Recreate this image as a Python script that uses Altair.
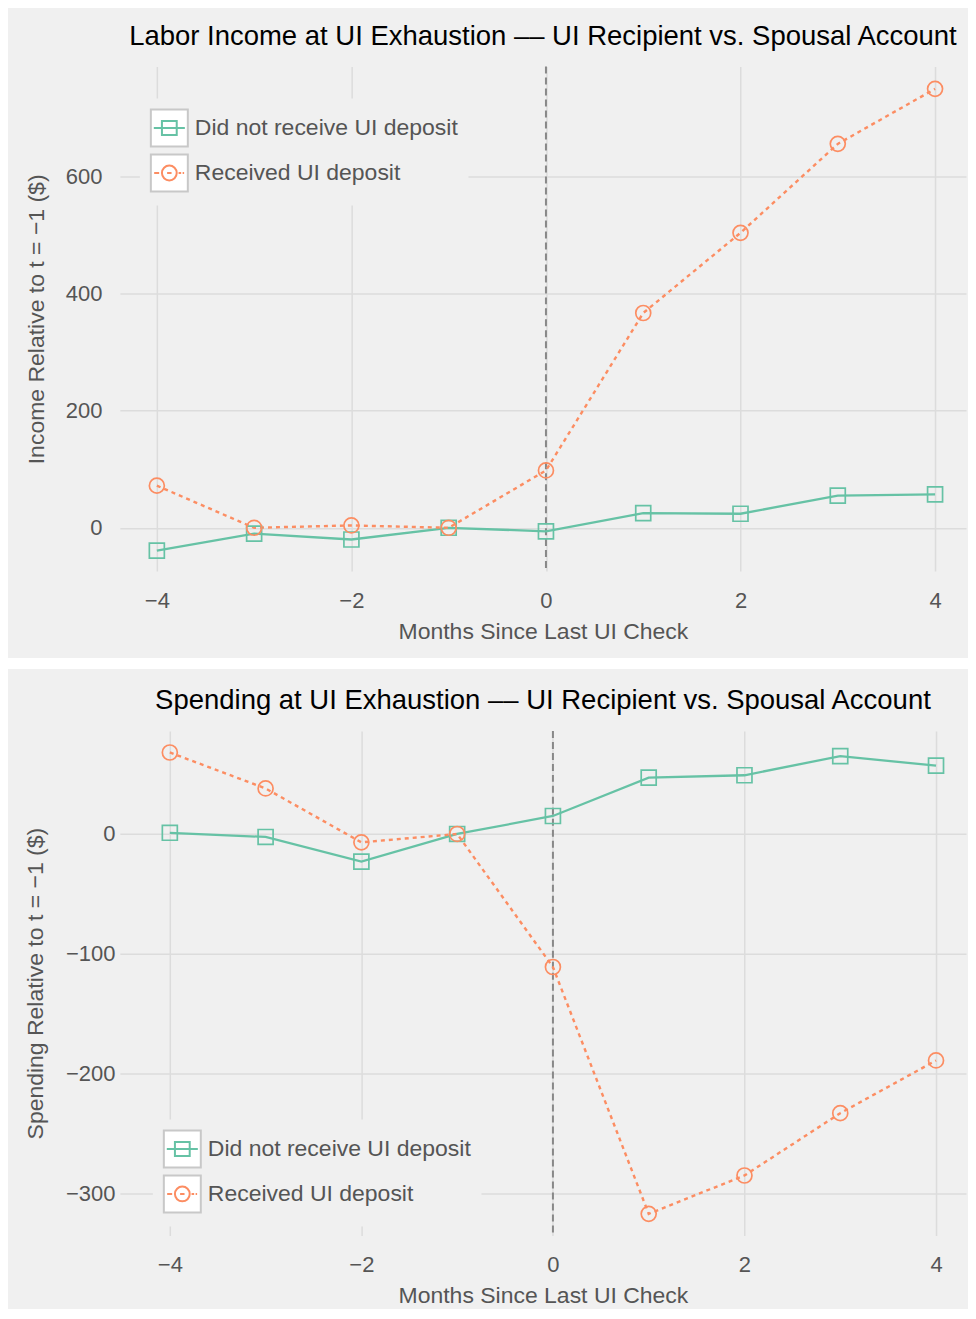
import altair as alt
import pandas as pd

months = [-4, -3, -2, -1, 0, 1, 2, 3, 4]
series_names = ["Did not receive UI deposit", "Received UI deposit"]
income_no = [-39, -10, -20, 0, -6, 25, 24, 55, 57]
income_yes = [72, 0, 4, 0, 98, 367, 504, 656, 750]
spend_no = [1, -2.5, -23, 0, 15, 47, 49, 65, 57]
spend_yes = [68, 38, -7, 0, -111, -317, -285, -233, -189]
x_ticks = [-4, -2, 0, 2, 4]
income_ticks = [0, 200, 400, 600]
spend_ticks = [-300, -200, -100, 0]
exhaust_month = [0]

GREEN = "#66c2a5"
ORANGE = "#fc8d62"
BG = "#f0f0f0"
GRID = "#dcdcdc"
TEXT = "#555555"
FONT = "Liberation Sans"
PLOT_W, PLOT_H = 847, 505

EXTENT = "M-1,-1M1,1"
SQ_GLYPH = EXTENT + "M-0.84,0H0.84M-0.4,-0.38H0.4V0.38H-0.4Z"
CI_GLYPH = (EXTENT + "M-0.82,0H-0.55M-0.4,0A0.4,0.4 0 1,0 0.4,0A0.4,0.4 0 1,0 -0.4,0Z"
            "M-0.12,0H0.12M0.5,0H0.64M0.72,0H0.8")
# invisible glyph whose extent makes a white band (panel separator) of GAP_W x GAP_H px
GAP_W, GAP_H = 960, 11
_s = GAP_H / 2
GAP_GLYPH = f"M-1,-1M{GAP_W / _s - 1:.4f},1"


def panel(no_vals, yes_vals, title, ytitle, ydomain, yticks, xdomain, label_pad,
          title_pad, legend_x, legend_y, gap=False):
    df = pd.DataFrame({
        "month": months + months,
        "value": no_vals + yes_vals,
        "series": [series_names[0]] * len(months) + [series_names[1]] * len(months),
    })
    xenc = alt.X("month:Q", scale=alt.Scale(domain=xdomain, nice=False, zero=False),
                 axis=alt.Axis(values=x_ticks, title="Months Since Last UI Check", format="d"))
    yenc = alt.Y("value:Q", scale=alt.Scale(domain=ydomain, nice=False, zero=False),
                 axis=alt.Axis(values=yticks, title=ytitle, format="d",
                               labelPadding=label_pad, titlePadding=title_pad))
    base = alt.Chart(df)

    def sub(i):
        return base.transform_filter(alt.datum.series == series_names[i])

    vline = alt.Chart(pd.DataFrame({"month": exhaust_month})).mark_rule(
        color="#888888", strokeWidth=2, strokeDash=[7, 4]).encode(x=xenc)
    line_no = sub(0).mark_line(color=GREEN, strokeWidth=2.3).encode(x=xenc, y=yenc)
    line_yes = sub(1).mark_line(color=ORANGE, strokeWidth=2.4, strokeDash=[4, 4]).encode(x=xenc, y=yenc)
    pts_no = sub(0).mark_point(shape="square", color=GREEN, filled=False, size=225,
                               strokeWidth=1.7, opacity=1).encode(x=xenc, y=yenc)
    pts_yes = sub(1).mark_point(shape="circle", color=ORANGE, filled=False, size=225,
                                strokeWidth=1.7, opacity=1).encode(x=xenc, y=yenc)

    common = dict(orient="none", legendX=legend_x, legendY=legend_y, title=None, padding=10,
                  symbolSize=1369, symbolStrokeWidth=2, rowPadding=0, labelOffset=6,
                  labelFont=FONT, labelFontSize=23, labelLimit=500)
    box_domain = ["box0", "box1"]
    label_expr = f"datum.value == 'box0' ? '{series_names[0]}' : '{series_names[1]}'"
    leg_box = base.transform_filter("false").mark_point(
        shape="square", filled=True, stroke="#c8c8c8", opacity=1).encode(
        x=xenc, y=yenc,
        fill=alt.Fill("series:N", scale=alt.Scale(domain=box_domain, range=["white", "white"]),
                      legend=alt.Legend(**common, fillColor=BG, zindex=1, labelOpacity=0,
                                        labelExpr=label_expr, symbolType="square",
                                        symbolStrokeColor="#c8c8c8", symbolFillColor="white")))
    leg_sym = base.transform_filter("false").mark_point(filled=False, opacity=1).encode(
        x=xenc, y=yenc,
        color=alt.Color("series:N", scale=alt.Scale(domain=series_names, range=[GREEN, ORANGE]),
                        legend=alt.Legend(**common, zindex=2, labelColor=TEXT)),
        shape=alt.Shape("series:N", scale=alt.Scale(domain=series_names, range=[SQ_GLYPH, CI_GLYPH]),
                        legend=alt.Legend(**common, zindex=2, labelColor=TEXT)),
    )
    layers = [vline, line_no, line_yes, pts_no, pts_yes, leg_box, leg_sym]
    if gap:
        gap_layer = base.transform_filter("false").mark_point(filled=False, opacity=1).encode(
            x=xenc, y=yenc,
            stroke=alt.Stroke("series:N", scale=alt.Scale(domain=["gap"], range=["transparent"]),
                              legend=alt.Legend(orient="none", legendX=-112, legendY=592, title=None,
                                                padding=0, fillColor="white",
                                                symbolType=GAP_GLYPH, symbolSize=GAP_H * GAP_H,
                                                symbolStrokeWidth=0, symbolFillColor="transparent",
                                                labelExpr="''", labelFontSize=1, labelOffset=0,
                                                rowPadding=0, zindex=0)))
        layers.append(gap_layer)
    return alt.layer(*layers).properties(width=PLOT_W, height=PLOT_H, title=title)


top = panel(income_no, income_yes,
            "Labor Income at UI Exhaustion \u2013\u2013 UI Recipient vs. Spousal Account",
            "Income Relative to t = \u22121 ($)", [-74, 788], income_ticks,
            [-4.38, 4.318], 18, 17, 20, 32, gap=True)
bottom = panel(spend_no, spend_yes,
               "Spending at UI Exhaustion \u2013\u2013 UI Recipient vs. Spousal Account",
               "Spending Relative to t = \u22121 ($)", [-335, 86], spend_ticks,
               [-4.5215, 4.313], 5, 17.5, 33, 389)

chart = alt.vconcat(top, bottom, spacing=18).resolve_scale(
    color="independent", shape="independent", fill="independent", stroke="independent"
).resolve_legend(
    color="independent", shape="independent", fill="independent", stroke="independent"
).properties(
    background=BG, padding={"left": 0, "top": 14, "right": 0, "bottom": 0}
).configure(font=FONT).configure_view(stroke=None).configure_axis(
    domain=False, ticks=False, grid=True, gridColor=GRID, gridWidth=1.5,
    labelFont=FONT, labelFontSize=22, labelColor=TEXT,
    titleFont=FONT, titleFontSize=23, titleColor=TEXT, titleFontWeight="normal"
).configure_axisX(labelPadding=19, titlePadding=9.5).configure_title(
    fontSize=27.5, font=FONT, color="#000000", fontWeight="normal",
    anchor="middle", frame="group", baseline="bottom", offset=15)

chart.save("out.html", embed_options={"renderer": "svg", "actions": False})
